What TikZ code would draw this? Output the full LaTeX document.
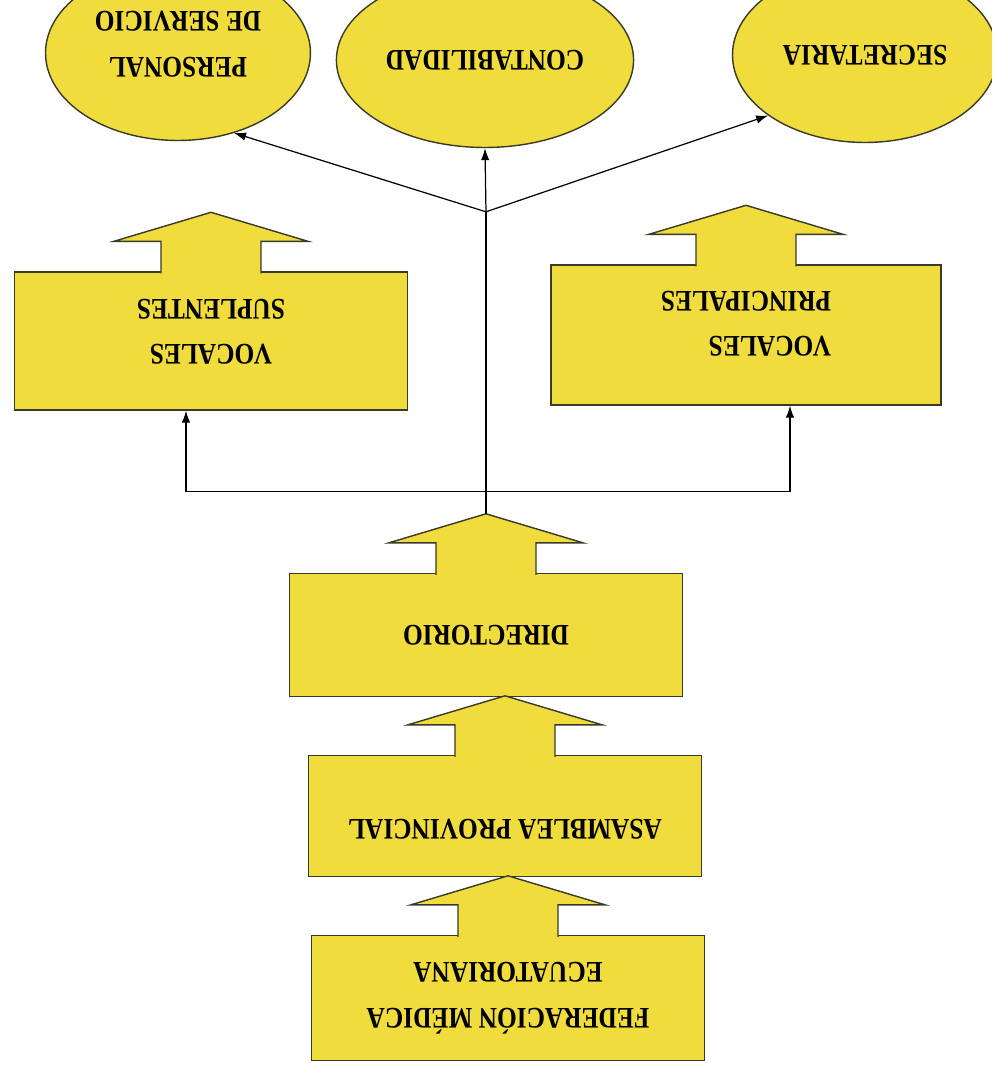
\documentclass[tikz,border=0pt]{standalone}
\usepackage{fontspec}
\setmainfont{Liberation Serif}[FakeStretch=0.85]
\usetikzlibrary{shapes.geometric, calc, arrows.meta}
\definecolor{orgyellow}{HTML}{F0DC3C}
\definecolor{orgedge}{HTML}{3A3A28}

\tikzset{
  unitbox/.style={rectangle, draw=orgedge, fill=orgyellow, line width=0.8pt, minimum width=7.86cm, minimum height=2.45cm, align=center, font=\fontsize{17}{26}\selectfont\bfseries},
  unitoval/.style={ellipse, draw=orgedge, fill=orgyellow, line width=0.8pt, minimum width=5.3cm, minimum height=3.5cm, align=center, font=\fontsize{17}{26}\selectfont\bfseries},
  tabarrow/.style={draw=orgedge, fill=orgyellow, line width=0.8pt, line join=miter},
  link/.style={-{Latex[length=2.4mm, width=1.7mm]}, line width=0.7pt}
}

\begin{document}
\begin{tikzpicture}[x=0.02cm, y=-0.02cm, rotate=180, transform shape]
% the scan is upside down: chart drawn upright, then turned
\clip (0,0) rectangle (992,1073);
\fill[white] (0,0) rectangle (992,1073);

% Main line
\node[unitbox, minimum height=2.5cm] (fed) at (484,75) {FEDERACIÓN MÉDICA\\ECUATORIANA};
\node[unitbox, minimum height=2.42cm] (asam) at (487,257) {ASAMBLEA PROVINCIAL\rule[-0.52cm]{0pt}{0.52cm}};
\node[unitbox, minimum height=2.46cm] (dir) at (506,438) {DIRECTORIO};

% Vocales
\node[unitbox, minimum width=7.8cm, minimum height=2.8cm, align=left] (vpri) at (246,738) {\rule{0pt}{0.84cm}VOCALES\\PRINCIPALES};
\node[unitbox, minimum height=2.76cm] (vsup) at (781,732) {\rule{0pt}{0.76cm}VOCALES\\SUPLENTES};

% Offices
\node[unitoval] (sec) at (127,1018) {SECRETARIA};
\node[unitoval] (cont) at (507,1013) {CONTABILIDAD};
\node[unitoval] (pers) at (814,1020) {\rule{0pt}{0.76cm}PERSONAL\\DE SERVICIO};

% Arrow tabs under the boxes
\foreach \u in {fed, asam, dir, vpri, vsup}
  \filldraw[tabarrow] ($(\u.south)+(-50,-2)$) -- ++(0,32) -- ++(-47,0) -- ($(\u.south)+(0,59)$)
    -- ($(\u.south)+(97,30)$) -- ++(-47,0) -- ++(0,-32);

\coordinate (dirtip) at ($(dir.south)+(0,59)$);
\coordinate (split) at ($(dirtip)+(0,22)$);
\coordinate (fork) at ($(dirtip)+(0,302)$);

% Draw connections
\draw[line width=0.7pt] (dirtip) -- (fork);
\draw[link] (fork) -- (cont.north);
\draw[link] (fork) -- (pers.125);
\draw[link] (fork) -- (sec.32);
\draw[link] (split) -| ($(vsup.north)+(25,0)$);
\draw[link] (split) -| ($(vpri.north)+(-44,0)$);

\end{tikzpicture}
\end{document}
